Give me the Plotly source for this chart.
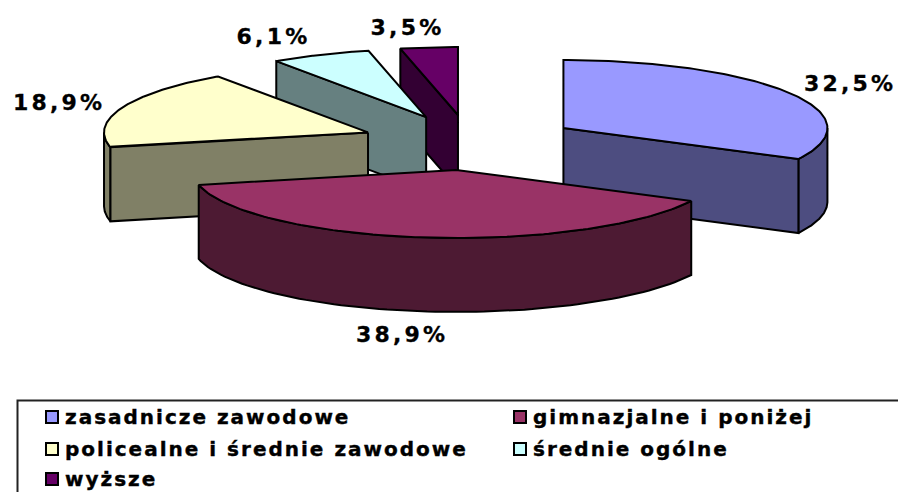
import numpy as np
import plotly.graph_objects as go

categories = ["zasadnicze zawodowe", "gimnazjalne i poniżej", "policealne i średnie zawodowe", "średnie ogólne", "wyższe"]
shares = [32.5, 38.9, 18.9, 6.1, 3.5]
share_labels = ["32,5%", "38,9%", "18,9%", "6,1%", "3,5%"]
top_colors = ["#9999FF", "#993366", "#FFFFCC", "#CCFFFF", "#660066"]
side_colors = ["#4D4D80", "#4D1A33", "#808066", "#668080", "#330033"]

# pie projection (pixels of the 898x492 canvas)
CX, CY, RX, RY, DEPTH = 470, 142.5, 264, 68, 74
EXPLODE_X, EXPLODE_Y = 109.5, 27.7
LABEL_POS = [(850, 83), (402, 334), (59, 102), (273, 36), (407, 27)]
LEGEND_POS = [(52, 417), (520, 417), (52, 449), (520, 449), (52, 479)]
DRAW_ORDER = [4, 3, 2, 0, 1]

values = np.array(shares, dtype=float)
edges = np.concatenate([[0], np.cumsum(values / values.sum() * 360)])

fig = go.Figure()


def poly(xs, ys, color):
    xs, ys = list(xs), list(ys)
    fig.add_trace(go.Scatter(
        x=xs + xs[:1], y=ys + ys[:1], mode="lines", fill="toself", fillcolor=color,
        line=dict(color="black", width=2), hoverinfo="skip", showlegend=False,
    ))


for i in DRAW_ORDER:
    a0, a1 = edges[i], edges[i + 1]
    mid = np.radians((a0 + a1) / 2)
    cx = CX + EXPLODE_X * np.sin(mid)
    cy = CY - EXPLODE_Y * np.cos(mid)
    px = lambda a: cx + RX * np.sin(np.radians(a))
    py = lambda a: cy - RY * np.cos(np.radians(a))

    # outer rim (only the part turned to the viewer)
    r0, r1 = max(a0, 90), min(a1, 270)
    if r1 > r0:
        arc = np.linspace(r0, r1, 80)
        poly(np.r_[px(arc), px(arc[::-1])], np.r_[py(arc), py(arc[::-1]) + DEPTH], side_colors[i])
    # visible cut faces
    for a, visible in ((a0, 180 < a0 < 360), (a1, 0 < a1 < 180)):
        if visible:
            poly([cx, px(a), px(a), cx], [cy, py(a), py(a) + DEPTH, cy + DEPTH], side_colors[i])
    # top face
    arc = np.linspace(a0, a1, 120)
    poly(np.r_[cx, px(arc)], np.r_[cy, py(arc)], top_colors[i])

# legend swatches
fig.add_trace(go.Scatter(
    x=[p[0] for p in LEGEND_POS], y=[p[1] for p in LEGEND_POS], mode="markers",
    marker=dict(symbol="square", size=12, color=top_colors, line=dict(color="black", width=2)),
    hoverinfo="skip", showlegend=False,
))

annotations = []
for (x, y), t in zip(LABEL_POS, share_labels):
    annotations.append(dict(x=x, y=y, text=t, showarrow=False, xanchor="center", yanchor="middle",
                            font=dict(family="DejaVu Sans", size=22, color="black", weight=700)))
for (x, y), t in zip(LEGEND_POS, categories):
    annotations.append(dict(x=x + 11, y=y, text=t, showarrow=False, xanchor="left", yanchor="middle", align="left",
                            font=dict(family="DejaVu Sans", size=20, color="black", weight=700)))

fig.update_layout(
    width=898, height=492, margin=dict(l=0, r=0, t=0, b=0, pad=0),
    paper_bgcolor="white", plot_bgcolor="white", showlegend=False,
    xaxis=dict(range=[0, 898], visible=False, fixedrange=True),
    yaxis=dict(range=[492, 0], visible=False, fixedrange=True),
    annotations=annotations,
    shapes=[dict(type="rect", xref="paper", yref="paper", x0=17.5 / 898, x1=1.02, y0=-0.05, y1=1 - 400.5 / 492,
                 line=dict(color="#222222", width=2), fillcolor="rgba(0,0,0,0)", layer="below")],
)

page_js = """
document.body.style.margin = '0';
document.body.style.overflow = 'hidden';
document.querySelectorAll('.annotation-text').forEach(function (el) {
  var size = parseFloat(el.style.fontSize);
  el.style.letterSpacing = size > 21 ? '3.2px' : '2px';
  el.style.stroke = 'black';
  el.style.strokeWidth = size > 21 ? '0.3px' : '0.4px';
});
"""
fig.write_html("out.html", post_script=page_js, config={"displayModeBar": False})
